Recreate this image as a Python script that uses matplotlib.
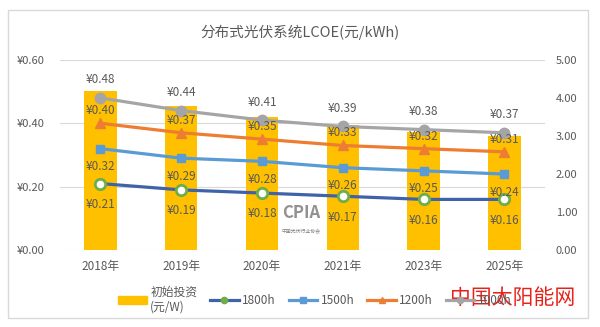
import matplotlib.pyplot as plt
from matplotlib.patches import Rectangle, Patch
from matplotlib.lines import Line2D
import numpy as np

plt.rcParams['font.family'] = ['Noto Sans CJK SC', 'DejaVu Sans']

years = ["2018年", "2019年", "2020年", "2021年", "2023年", "2025年"]
invest = [4.18, 3.8, 3.5, 3.3, 3.1, 3.0]          # 初始投资 (元/W), right axis
lcoe_1000 = [0.48, 0.44, 0.41, 0.39, 0.38, 0.37]
lcoe_1200 = [0.40, 0.37, 0.35, 0.33, 0.32, 0.31]
lcoe_1500 = [0.32, 0.29, 0.28, 0.26, 0.25, 0.24]
lcoe_1800 = [0.21, 0.19, 0.18, 0.17, 0.16, 0.16]
left_ticks = [0.0, 0.2, 0.4, 0.6]
right_ticks = [0, 1, 2, 3, 4, 5]

txt = "#595959"
fig = plt.figure(figsize=(6, 3.27), dpi=100)
fig.patches.append(Rectangle((8 / 600, 1 - 318 / 327), 580 / 600, 308 / 327,
                             transform=fig.transFigure, fill=False,
                             edgecolor="#d9d9d9", lw=1))

# bars on the back axis, lines on the front one
axb = fig.add_axes([0.1, 0.235, 0.808, 0.582])
ax = axb.twinx()
ax.set_zorder(axb.get_zorder() + 1)
ax.patch.set_visible(False)

x = np.arange(len(years))
axb.set_ylim(0, 5)
axb.set_xlim(-0.5, len(years) - 0.5)
scale = 5 / 0.6
for t in left_ticks:
    axb.axhline(t * scale, color="#d9d9d9", lw=0.8, zorder=0)
axb.bar(x, invest, width=0.4, color="#FFC000", zorder=2)
axb.yaxis.tick_right()
axb.set_yticks(right_ticks)
axb.set_yticklabels([f"{v:.2f}" for v in right_ticks])
axb.set_xticks(x)
axb.set_xticklabels(years)

ax.yaxis.tick_left()
ax.set_ylim(0, 0.6)
ax.set_yticks(left_ticks)
ax.set_yticklabels([f"¥{v:.2f}" for v in left_ticks])

for a in (ax, axb):
    for s in a.spines.values():
        s.set_visible(False)
    a.tick_params(length=0, labelsize=8, colors=txt)
axb.tick_params(axis="y", pad=8)
axb.tick_params(axis="x", pad=7, labelsize=8.5)
ax.tick_params(axis="y", pad=11)

series = [
    (lcoe_1800, "1800h", "#3F63A8", "o", "#70AD47", "white", -15),
    (lcoe_1500, "1500h", "#5B9BD5", "s", "#5B9BD5", "#5B9BD5", -13),
    (lcoe_1200, "1200h", "#ED7D31", "^", "#ED7D31", "#ED7D31", 9),
    (lcoe_1000, "1000h", "#A5A5A5", "o", "#A5A5A5", "#A5A5A5", 13),
]
handles = [Patch(color="#FFC000", label="初始投资\n(元/W)")]
for vals, name, col, mk, mec, mfc, off in series:
    ax.plot(x, vals, color=col, lw=2.3, marker=mk, ms=7.5 if mk != "s" else 6,
            mec=mec, mfc=mfc, mew=2 if mfc == "white" else 1, zorder=3)
    for xi, v in zip(x, vals):
        ax.annotate(f"¥{v:.2f}", (xi, v), xytext=(0, off),
                    textcoords="offset points", ha="center", va="center",
                    fontsize=8.5, color=txt, zorder=4)
    handles.append(Line2D([], [], color=col, lw=2.3, marker=mk, ms=4.5,
                          mec=mec, mfc=mec, label=name))

fig.legend(handles=handles, loc="center", bbox_to_anchor=(0.525, 0.085), ncol=5,
           frameon=False, fontsize=8.5, labelcolor=txt, handlelength=2.4,
           handletextpad=0.3, columnspacing=1.1)
fig.text(0.5, 0.9, "分布式光伏系统LCOE(元/kWh)", ha="center", va="center",
         fontsize=10.5, color=txt)

fig.text(0.502, 0.35, "CPIA", ha="center", va="center", fontsize=12,
         fontweight="bold", color="#7f7f7f", alpha=0.85)
fig.text(0.502, 0.295, "中国光伏行业协会", ha="center", va="center", fontsize=3.5,
         color="#7f7f7f")
fig.text(0.855, 0.09, "中国太阳能网", ha="center", va="center", fontsize=15,
         color="#e8221b")

fig.savefig("out.png", dpi=100)
